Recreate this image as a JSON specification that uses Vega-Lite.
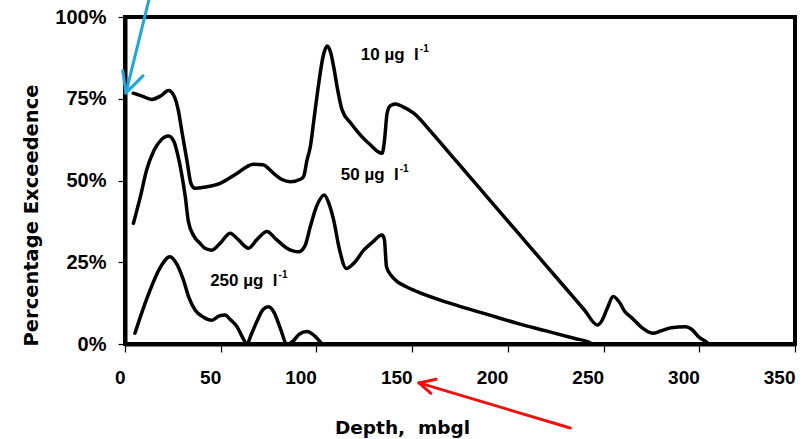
{
  "$schema": "https://vega.github.io/schema/vega-lite/v6.json",
  "width": 670,
  "height": 327,
  "autosize": {"type": "none"},
  "padding": {"left": 125, "top": 17, "right": 9, "bottom": 95},
  "background": "white",
  "config": {
    "view": {"stroke": "black", "strokeWidth": 4},
    "axis": {"grid": false}
  },
  "datasets": {
    "curves": [
      {"series": "10", "depth": 4.3, "exceedence": 0.767},
      {"series": "10", "depth": 9, "exceedence": 0.758},
      {"series": "10", "depth": 14, "exceedence": 0.748},
      {"series": "10", "depth": 19, "exceedence": 0.76},
      {"series": "10", "depth": 22.7, "exceedence": 0.775},
      {"series": "10", "depth": 25.5, "exceedence": 0.76},
      {"series": "10", "depth": 27.8, "exceedence": 0.716},
      {"series": "10", "depth": 30, "exceedence": 0.64},
      {"series": "10", "depth": 32.3, "exceedence": 0.563},
      {"series": "10", "depth": 34.5, "exceedence": 0.49},
      {"series": "10", "depth": 36.6, "exceedence": 0.476},
      {"series": "10", "depth": 42, "exceedence": 0.48},
      {"series": "10", "depth": 49.7, "exceedence": 0.491},
      {"series": "10", "depth": 58, "exceedence": 0.52},
      {"series": "10", "depth": 67.1, "exceedence": 0.55},
      {"series": "10", "depth": 72, "exceedence": 0.548},
      {"series": "10", "depth": 77.6, "exceedence": 0.522},
      {"series": "10", "depth": 82, "exceedence": 0.503},
      {"series": "10", "depth": 86.3, "exceedence": 0.496},
      {"series": "10", "depth": 91.6, "exceedence": 0.504},
      {"series": "10", "depth": 93.3, "exceedence": 0.512},
      {"series": "10", "depth": 95, "exceedence": 0.56},
      {"series": "10", "depth": 96.8, "exceedence": 0.603},
      {"series": "10", "depth": 99, "exceedence": 0.7},
      {"series": "10", "depth": 101.2, "exceedence": 0.797},
      {"series": "10", "depth": 103.5, "exceedence": 0.88},
      {"series": "10", "depth": 105.6, "exceedence": 0.911},
      {"series": "10", "depth": 107.5, "exceedence": 0.89},
      {"series": "10", "depth": 109, "exceedence": 0.848},
      {"series": "10", "depth": 111, "exceedence": 0.78},
      {"series": "10", "depth": 113.4, "exceedence": 0.716},
      {"series": "10", "depth": 118, "exceedence": 0.675},
      {"series": "10", "depth": 123, "exceedence": 0.639},
      {"series": "10", "depth": 128, "exceedence": 0.61},
      {"series": "10", "depth": 134.3, "exceedence": 0.583},
      {"series": "10", "depth": 135.5, "exceedence": 0.62},
      {"series": "10", "depth": 136.9, "exceedence": 0.705},
      {"series": "10", "depth": 138.5, "exceedence": 0.728},
      {"series": "10", "depth": 141.3, "exceedence": 0.734},
      {"series": "10", "depth": 145, "exceedence": 0.726},
      {"series": "10", "depth": 150.8, "exceedence": 0.706},
      {"series": "10", "depth": 160, "exceedence": 0.648},
      {"series": "10", "depth": 170, "exceedence": 0.58},
      {"series": "10", "depth": 180, "exceedence": 0.512},
      {"series": "10", "depth": 190, "exceedence": 0.444},
      {"series": "10", "depth": 200, "exceedence": 0.376},
      {"series": "10", "depth": 210, "exceedence": 0.308},
      {"series": "10", "depth": 220, "exceedence": 0.24},
      {"series": "10", "depth": 230, "exceedence": 0.172},
      {"series": "10", "depth": 240, "exceedence": 0.104},
      {"series": "10", "depth": 246.8, "exceedence": 0.058},
      {"series": "10", "depth": 249, "exceedence": 0.07},
      {"series": "10", "depth": 252, "exceedence": 0.11},
      {"series": "10", "depth": 255, "exceedence": 0.145},
      {"series": "10", "depth": 258, "exceedence": 0.13},
      {"series": "10", "depth": 261, "exceedence": 0.1},
      {"series": "10", "depth": 265.1, "exceedence": 0.078},
      {"series": "10", "depth": 270, "exceedence": 0.05},
      {"series": "10", "depth": 275.6, "exceedence": 0.033},
      {"series": "10", "depth": 280, "exceedence": 0.04},
      {"series": "10", "depth": 285.2, "exceedence": 0.05},
      {"series": "10", "depth": 293, "exceedence": 0.053},
      {"series": "10", "depth": 296, "exceedence": 0.045},
      {"series": "10", "depth": 300, "exceedence": 0.02},
      {"series": "10", "depth": 303.5, "exceedence": 0.007},
      {"series": "10", "depth": 305, "exceedence": 0},
      {"series": "50", "depth": 4.4, "exceedence": 0.369},
      {"series": "50", "depth": 8, "exceedence": 0.45},
      {"series": "50", "depth": 11.3, "exceedence": 0.532},
      {"series": "50", "depth": 15, "exceedence": 0.59},
      {"series": "50", "depth": 19, "exceedence": 0.625},
      {"series": "50", "depth": 22.7, "exceedence": 0.636},
      {"series": "50", "depth": 25.5, "exceedence": 0.62},
      {"series": "50", "depth": 27.5, "exceedence": 0.58},
      {"series": "50", "depth": 29.6, "exceedence": 0.52},
      {"series": "50", "depth": 31.5, "exceedence": 0.45},
      {"series": "50", "depth": 33.1, "exceedence": 0.375},
      {"series": "50", "depth": 36, "exceedence": 0.33},
      {"series": "50", "depth": 39.2, "exceedence": 0.308},
      {"series": "50", "depth": 42, "exceedence": 0.292},
      {"series": "50", "depth": 45.4, "exceedence": 0.287},
      {"series": "50", "depth": 50, "exceedence": 0.31},
      {"series": "50", "depth": 54.9, "exceedence": 0.339},
      {"series": "50", "depth": 59, "exceedence": 0.32},
      {"series": "50", "depth": 64.5, "exceedence": 0.293},
      {"series": "50", "depth": 69, "exceedence": 0.32},
      {"series": "50", "depth": 74.1, "exceedence": 0.344},
      {"series": "50", "depth": 79, "exceedence": 0.32},
      {"series": "50", "depth": 84.6, "exceedence": 0.293},
      {"series": "50", "depth": 90.7, "exceedence": 0.282},
      {"series": "50", "depth": 94, "exceedence": 0.3},
      {"series": "50", "depth": 96.8, "exceedence": 0.359},
      {"series": "50", "depth": 100, "exceedence": 0.42},
      {"series": "50", "depth": 104.1, "exceedence": 0.456},
      {"series": "50", "depth": 106.5, "exceedence": 0.43},
      {"series": "50", "depth": 109, "exceedence": 0.379},
      {"series": "50", "depth": 112, "exceedence": 0.29},
      {"series": "50", "depth": 115.6, "exceedence": 0.231},
      {"series": "50", "depth": 120, "exceedence": 0.25},
      {"series": "50", "depth": 124.7, "exceedence": 0.287},
      {"series": "50", "depth": 129, "exceedence": 0.31},
      {"series": "50", "depth": 134.3, "exceedence": 0.333},
      {"series": "50", "depth": 135.5, "exceedence": 0.32},
      {"series": "50", "depth": 136.6, "exceedence": 0.236},
      {"series": "50", "depth": 139, "exceedence": 0.21},
      {"series": "50", "depth": 142.2, "exceedence": 0.191},
      {"series": "50", "depth": 147, "exceedence": 0.175},
      {"series": "50", "depth": 152.6, "exceedence": 0.16},
      {"series": "50", "depth": 170, "exceedence": 0.124},
      {"series": "50", "depth": 190, "exceedence": 0.089},
      {"series": "50", "depth": 205, "exceedence": 0.063},
      {"series": "50", "depth": 220, "exceedence": 0.04},
      {"series": "50", "depth": 235, "exceedence": 0.017},
      {"series": "50", "depth": 241.6, "exceedence": 0.007},
      {"series": "50", "depth": 244, "exceedence": 0},
      {"series": "250", "depth": 5.2, "exceedence": 0.033},
      {"series": "250", "depth": 9, "exceedence": 0.1},
      {"series": "250", "depth": 13.1, "exceedence": 0.165},
      {"series": "250", "depth": 18, "exceedence": 0.23},
      {"series": "250", "depth": 23.5, "exceedence": 0.267},
      {"series": "250", "depth": 27, "exceedence": 0.245},
      {"series": "250", "depth": 30.5, "exceedence": 0.196},
      {"series": "250", "depth": 33.5, "exceedence": 0.14},
      {"series": "250", "depth": 36.6, "exceedence": 0.104},
      {"series": "250", "depth": 41, "exceedence": 0.082},
      {"series": "250", "depth": 45.4, "exceedence": 0.073},
      {"series": "250", "depth": 49, "exceedence": 0.085},
      {"series": "250", "depth": 52.3, "exceedence": 0.089},
      {"series": "250", "depth": 55, "exceedence": 0.075},
      {"series": "250", "depth": 58.5, "exceedence": 0.053},
      {"series": "250", "depth": 61, "exceedence": 0.025},
      {"series": "250", "depth": 63.7, "exceedence": 0},
      {"series": "250", "depth": 66, "exceedence": 0.03},
      {"series": "250", "depth": 69, "exceedence": 0.07},
      {"series": "250", "depth": 72, "exceedence": 0.105},
      {"series": "250", "depth": 75, "exceedence": 0.114},
      {"series": "250", "depth": 78, "exceedence": 0.095},
      {"series": "250", "depth": 81, "exceedence": 0.05},
      {"series": "250", "depth": 84.6, "exceedence": 0},
      {"series": "250", "depth": 88, "exceedence": 0.01},
      {"series": "250", "depth": 91, "exceedence": 0.03},
      {"series": "250", "depth": 95.1, "exceedence": 0.038},
      {"series": "250", "depth": 99, "exceedence": 0.025},
      {"series": "250", "depth": 102.9, "exceedence": 0}
    ],
    "arrows": [
      {"arrow": "blue", "x1": 12.8, "y1": 1.06, "x2": 0.5, "y2": 0.768},
      {"arrow": "blue", "x1": 0.5, "y1": 0.768, "x2": -1.2, "y2": 0.836},
      {"arrow": "blue", "x1": 0.5, "y1": 0.768, "x2": 9.4, "y2": 0.82},
      {"arrow": "red", "x1": 232.6, "y1": -0.257, "x2": 153.6, "y2": -0.119},
      {"arrow": "red", "x1": 153.6, "y1": -0.119, "x2": 162.5, "y2": -0.108},
      {"arrow": "red", "x1": 153.6, "y1": -0.119, "x2": 159.8, "y2": -0.151}
    ],
    "labels": [
      {"x": 153.5, "y": 0.884, "label": "10 µg\u00a0 l", "sup": "-1"},
      {"x": 143, "y": 0.517, "label": "50 µg\u00a0 l", "sup": "-1"},
      {"x": 79.7, "y": 0.194, "label": "250 µg\u00a0 l", "sup": "-1"}
    ]
  },
  "layer": [
    {
      "data": {"name": "curves"},
      "mark": {"type": "line", "interpolate": "monotone", "color": "black", "strokeWidth": 3.5, "strokeCap": "round", "strokeJoin": "round"},
      "encoding": {
        "x": {
          "field": "depth", "type": "quantitative",
          "scale": {"domain": [0, 350], "nice": false, "zero": false},
          "axis": {
            "title": "Depth,\u00a0 mbgl",
            "values": [0, 50, 100, 150, 200, 250, 300, 350],
            "domainColor": "black", "domainWidth": 4,
            "tickColor": "black", "tickWidth": 1.2, "tickSize": 8,
            "labelFont": "Liberation Sans", "labelFontWeight": "bold", "labelFontSize": 19, "labelColor": "black",
            "labelAlign": "right", "labelDx": -6, "labelPadding": 16,
            "titleFont": "DejaVu Sans", "titleFontWeight": "bold", "titleFontSize": 18.5, "titleColor": "black",
            "titleX": 277, "titleY": 89, "titleAlign": "center", "titleBaseline": "alphabetic"
          }
        },
        "y": {
          "field": "exceedence", "type": "quantitative",
          "scale": {"domain": [0, 1], "nice": false},
          "axis": {
            "title": "Percentage Exceedence",
            "values": [0, 0.25, 0.5, 0.75, 1],
            "format": ".0%",
            "domainColor": "black", "domainWidth": 4,
            "tickColor": "black", "tickWidth": 1.2, "tickSize": 7,
            "labelFont": "Liberation Sans", "labelFontWeight": "bold", "labelFontSize": 20, "labelColor": "black",
            "labelPadding": 12,
            "titleFont": "DejaVu Sans", "titleFontWeight": "bold", "titleFontSize": 19.5, "titleColor": "black",
            "titleAngle": -90, "titleX": -94, "titleY": 198, "titleAlign": "center", "titleBaseline": "middle"
          }
        },
        "detail": {"field": "series", "type": "nominal"}
      }
    },
    {
      "data": {"name": "arrows"},
      "mark": {"type": "rule", "strokeWidth": 3, "strokeCap": "round"},
      "encoding": {
        "x": {"field": "x1", "type": "quantitative"},
        "y": {"field": "y1", "type": "quantitative"},
        "x2": {"field": "x2"},
        "y2": {"field": "y2"},
        "color": {"field": "arrow", "type": "nominal", "scale": {"domain": ["blue", "red"], "range": ["#1AA7E5", "#F01010"]}, "legend": null}
      }
    },
    {
      "data": {"name": "labels"},
      "mark": {"type": "text", "align": "right", "baseline": "middle", "font": "Liberation Sans", "fontWeight": "bold", "fontSize": 17, "color": "black"},
      "encoding": {
        "x": {"field": "x", "type": "quantitative"},
        "y": {"field": "y", "type": "quantitative"},
        "text": {"field": "label"}
      }
    },
    {
      "data": {"name": "labels"},
      "mark": {"type": "text", "align": "left", "baseline": "middle", "font": "Liberation Sans", "fontWeight": "bold", "fontSize": 10, "dx": 1, "dy": -6, "color": "black"},
      "encoding": {
        "x": {"field": "x", "type": "quantitative"},
        "y": {"field": "y", "type": "quantitative"},
        "text": {"field": "sup"}
      }
    }
  ]
}
